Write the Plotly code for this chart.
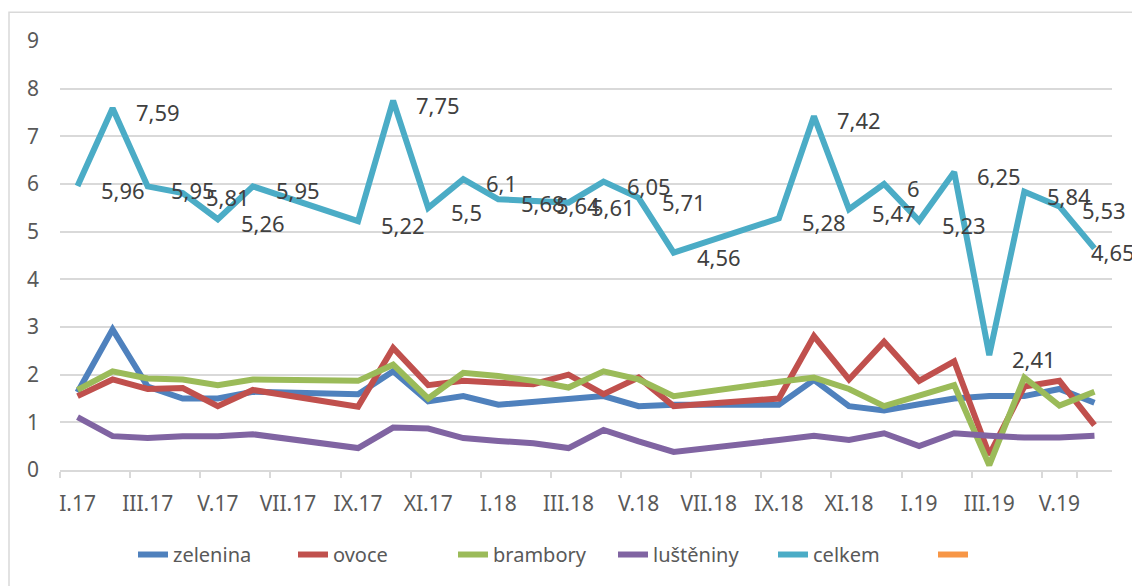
import plotly.graph_objects as go

# months I.17 .. VI.19
roman = ["I", "II", "III", "IV", "V", "VI", "VII", "VIII", "IX", "X", "XI", "XII"]
months = [f"{r}.{y}" for y in ("17", "18", "19") for r in roman][:30]
tick_labels = months[::2]

zelenina = [1.63, 2.95, 1.75, 1.50, 1.50, 1.64, None, None, 1.59, 2.07,
            1.44, 1.55, 1.37, 1.42, 1.47, 1.55, 1.34, 1.37, None, None,
            1.37, 1.89, 1.34, 1.25, 1.38, 1.50, 1.55, 1.55, 1.70, 1.41]
ovoce = [1.55, 1.90, 1.70, 1.72, 1.34, 1.68, None, None, 1.33, 2.56,
         1.78, 1.87, 1.83, 1.80, 2.00, 1.59, 1.94, 1.34, None, None,
         1.50, 2.81, 1.90, 2.69, 1.87, 2.28, 0.32, 1.75, 1.87, 0.94]
brambory = [1.68, 2.07, 1.92, 1.90, 1.78, 1.90, None, None, 1.87, 2.21,
            1.50, 2.04, 1.97, 1.87, 1.73, 2.07, 1.90, 1.55, None, None,
            1.85, 1.94, 1.70, 1.34, 1.56, 1.78, 0.10, 1.94, 1.35, 1.64]
lusteniny = [1.11, 0.71, 0.67, 0.71, 0.71, 0.75, None, None, 0.46, 0.89,
             0.87, 0.67, 0.61, 0.56, 0.46, 0.84, 0.60, 0.38, None, None,
             0.63, 0.72, 0.63, 0.77, 0.50, 0.77, 0.72, 0.68, 0.68, 0.72]
celkem = [5.96, 7.59, 5.95, 5.81, 5.26, 5.95, None, None, 5.22, 7.75,
          5.5, 6.1, 5.68, 5.64, 5.61, 6.05, 5.71, 4.56, None, None,
          5.28, 7.42, 5.47, 6, 5.23, 6.25, 2.41, 5.84, 5.53, 4.65]

series = [
    ("zelenina", zelenina, "#4F81BD"),
    ("ovoce", ovoce, "#C0504D"),
    ("brambory", brambory, "#9BBB59"),
    ("luštěniny", lusteniny, "#8064A2"),
    ("celkem", celkem, "#4BACC6"),
]

FONT = "Noto Sans"
W, H = 1132, 586
M = dict(l=60, r=20, t=41, b=114)

fig = go.Figure()
for name, vals, color in series:
    fig.add_trace(go.Scatter(
        x=months, y=vals, name=name, mode="lines",
        connectgaps=True,
        line=dict(color=color, width=6),
    ))

# empty sixth series, shown only in the legend
fig.add_trace(go.Scatter(x=[months[0]], y=[None], name="", mode="lines",
                         line=dict(color="#F79646", width=6)))

# data labels on celkem
annotations = []
for i, (m, v) in enumerate(zip(months, celkem)):
    if v is None:
        continue
    txt = f"{v:g}".replace(".", ",")
    annotations.append(dict(
        x=m, y=v, xref="x", yref="y", text=txt, showarrow=False,
        xanchor="left", yanchor="middle",
        xshift=21 if i < len(months) - 1 else -5, yshift=-4,
        font=dict(family=FONT, size=22, color="#404040"),
    ))

# outer chart border (partly off-page, like the cropped original)
pw = W - M["l"] - M["r"]
ph = H - M["t"] - M["b"]
border = dict(
    type="rect", xref="paper", yref="paper", layer="below",
    x0=(9 - M["l"]) / pw, x1=(W + 20 - M["l"]) / pw,
    y0=(H - M["b"] - (H + 20)) / ph, y1=(H - M["b"] - 12) / ph,
    line=dict(color="#D9D9D9", width=1.5), fillcolor="rgba(0,0,0,0)",
)

fig.update_layout(
    width=W, height=H,
    margin=M,
    paper_bgcolor="white", plot_bgcolor="white",
    font=dict(family=FONT, size=20, color="#595959"),
    showlegend=True,
    legend=dict(
        orientation="h", x=(133 - M["l"]) / pw, xanchor="left",
        y=-0.197, yanchor="middle",
        font=dict(family=FONT, size=20, color="#595959"),
        entrywidth=115, entrywidthmode="pixels",
    ),
    annotations=annotations,
    shapes=[border],
    xaxis=dict(
        type="category", categoryorder="array", categoryarray=months,
        tickmode="array", tickvals=tick_labels, ticktext=tick_labels,
        tickson="boundaries", ticks="outside", ticklen=6,
        tickcolor="#D9D9D9", tickwidth=1.5, tickangle=0,
        showline=True, linecolor="#D9D9D9", linewidth=1.5,
        showgrid=False, zeroline=False, automargin=False,
        ticklabelstandoff=14,
        tickfont=dict(family=FONT, size=21, color="#595959"),
        range=[-0.5, len(months) - 0.5],
    ),
    yaxis=dict(
        range=[0, 9], dtick=1, tick0=0,
        showgrid=True, gridcolor="#D9D9D9", gridwidth=1.5,
        zeroline=False, showline=False, automargin=False,
        ticklabelstandoff=20,
        tickfont=dict(family=FONT, size=21, color="#595959"),
    ),
)

fig.write_html("out.html", config={"displayModeBar": False},
               post_script="document.body.style.margin='0';")
